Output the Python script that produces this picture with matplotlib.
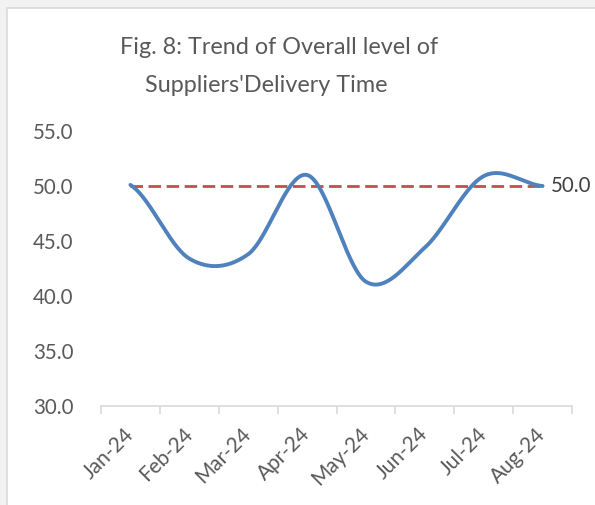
import matplotlib.pyplot as plt
import numpy as np
from matplotlib.patches import Rectangle

plt.rcParams['font.family'] = ['Lato', 'DejaVu Sans']

# data
months = ['Jan-24', 'Feb-24', 'Mar-24', 'Apr-24', 'May-24', 'Jun-24', 'Jul-24', 'Aug-24']
delivery_time = [50.1, 43.4, 43.8, 51.0, 41.3, 44.4, 50.9, 50.0]
threshold = [50.0, 50.0, 50.0, 50.0, 50.0, 50.0, 50.0, 50.0]
yticks = [30, 35, 40, 45, 50, 55]


def smooth(y, n=40):
    # Catmull-Rom style smoothing like Excel's "smoothed line"
    y = np.asarray(y, dtype=float)
    pts = np.concatenate([[y[0]], y, [y[-1]]])
    xs, ys = [], []
    for i in range(len(y) - 1):
        p0, p1, p2, p3 = pts[i], pts[i + 1], pts[i + 2], pts[i + 3]
        t = np.linspace(0, 1, n, endpoint=(i == len(y) - 2))
        m1 = (p2 - p0) / 2
        m2 = (p3 - p1) / 2
        h = (p1 * (2 * t**3 - 3 * t**2 + 1) + m1 * (t**3 - 2 * t**2 + t)
             + p2 * (-2 * t**3 + 3 * t**2) + m2 * (t**3 - t**2))
        xs.append(i + t)
        ys.append(h)
    return np.concatenate(xs), np.concatenate(ys)


fig = plt.figure(figsize=(5.95, 5.05), dpi=100)
fig.patch.set_facecolor('#f2f2f2')
fig.patches.append(Rectangle((7 / 595, -0.05), 1.0, 1 - 8 / 505 + 0.05,
                             transform=fig.transFigure, facecolor='white',
                             edgecolor='#d9d9d9', linewidth=1.2, zorder=-5))

ax = fig.add_axes([101 / 595, 1 - 406 / 505, 471 / 595, 275 / 505])
ax.set_facecolor('none')
ax.set_zorder(2)

x = np.arange(len(months))
sx, sy = smooth(delivery_time)
ax.plot(sx, sy, color='#4f81bd', linewidth=2.8, solid_capstyle='round', zorder=3)
ax.plot(x, threshold, color='#c0504d', linewidth=2.0, linestyle=(0, (4.5, 2)), zorder=2)
ax.text(x[-1] + 0.15, threshold[-1], '%.1f' % threshold[-1], va='center', ha='left',
        fontsize=14.8, color='#404040')

ax.set_xlim(-0.5, len(months) - 0.5)
ax.set_ylim(30, 55)
ax.set_yticks(yticks)
ax.set_yticklabels(['%.1f' % v for v in yticks], fontsize=14.8, color='#595959')
ax.tick_params(axis='y', length=0, pad=20)

ax.set_xticks(x)
ax.set_xticklabels(months, rotation=45, ha='right', va='center', rotation_mode='anchor',
                   fontsize=15, color='#595959')
ax.tick_params(axis='x', which='major', length=0, pad=18)
ax.set_xticks(np.arange(-0.5, len(months)), minor=True)
ax.tick_params(axis='x', which='minor', length=6, width=1.2, color='#d9d9d9')

for s in ['top', 'right', 'left']:
    ax.spines[s].set_visible(False)
ax.spines['bottom'].set_color('#d9d9d9')
ax.spines['bottom'].set_linewidth(1.2)

fig.text(279 / 595, 1 - 47 / 505, 'Fig. 8: Trend of Overall level of', ha='center', va='center',
         fontsize=16.8, color='#595959')
fig.text(266 / 595, 1 - 85 / 505, "Suppliers'Delivery Time", ha='center', va='center',
         fontsize=16.8, color='#595959')

fig.savefig('out.png', dpi=100, facecolor=fig.get_facecolor())
